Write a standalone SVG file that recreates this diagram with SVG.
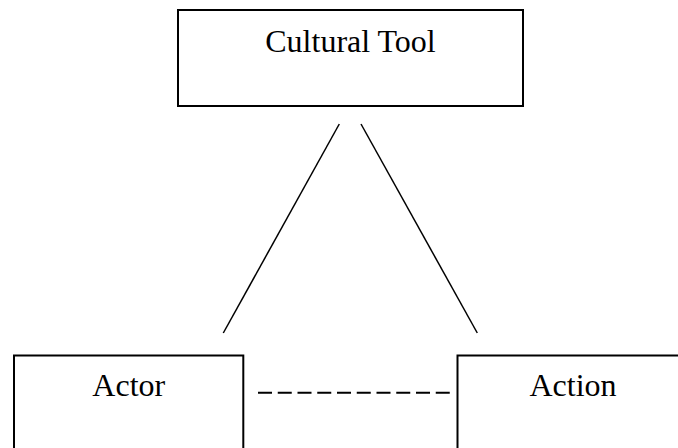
<svg xmlns="http://www.w3.org/2000/svg" width="678" height="448" viewBox="0 0 678 448">
<style>
.box{fill:#fff;stroke:#000;stroke-width:2}
.lbl{font-family:"Liberation Serif","Times New Roman",serif;font-size:32px;fill:#000;text-anchor:middle}
.con{stroke:#000;stroke-width:1.5;fill:none}
.dash{stroke:#000;stroke-width:2;fill:none;stroke-dasharray:14 5.75}
</style>
<rect width="678" height="448" fill="#fff"/>
<g id="connectors">
<line class="con" x1="339.3" y1="124" x2="223.3" y2="333"/>
<line class="con" x1="361" y1="124" x2="477.3" y2="333"/>
<line class="dash" x1="258" y1="392.7" x2="450" y2="392.7"/>
</g>
<g id="cultural-tool">
<rect class="box" x="178" y="10" width="345" height="96"/>
<text class="lbl" x="350.5" y="51.7">Cultural Tool</text>
</g>
<g id="actor">
<rect class="box" x="14" y="355.5" width="229.3" height="110"/>
<text class="lbl" x="128.8" y="395.7">Actor</text>
</g>
<g id="action">
<rect class="box" x="457.5" y="355.5" width="240" height="110"/>
<text class="lbl" x="573" y="395.7">Action</text>
</g>
</svg>
